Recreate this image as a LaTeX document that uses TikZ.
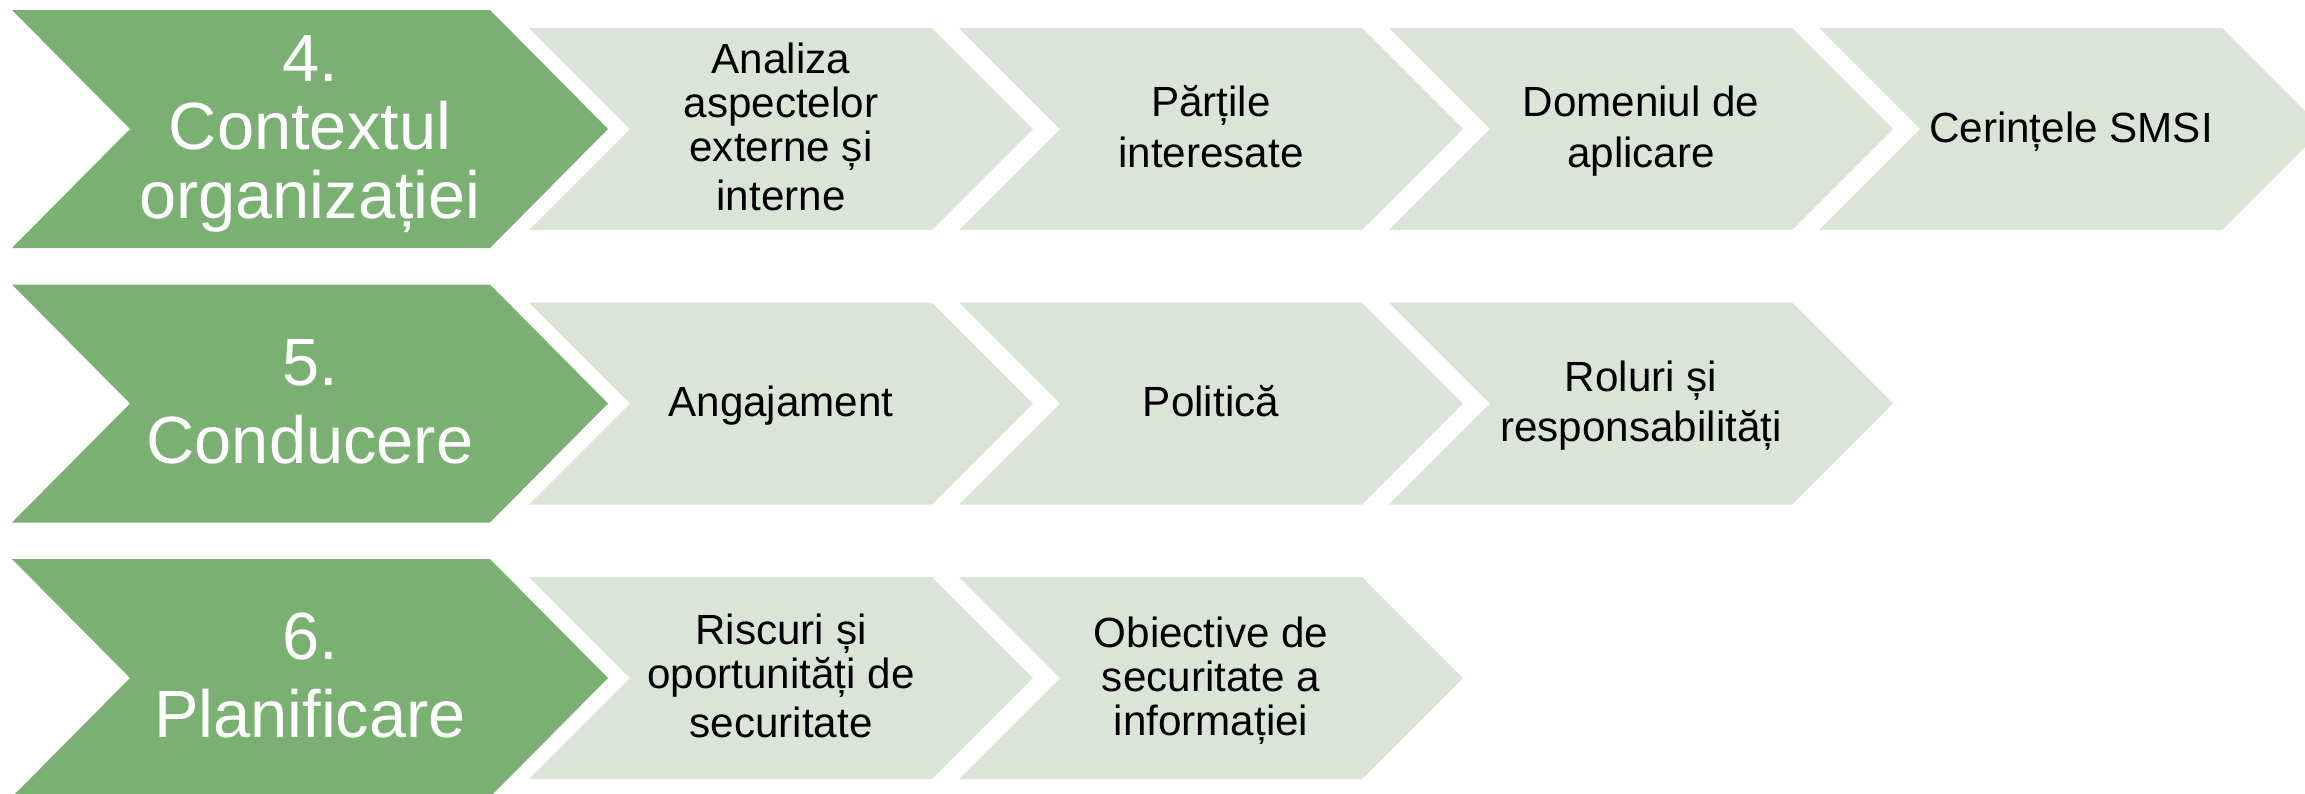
\documentclass[tikz,border=0pt]{standalone}
\usepackage{fontspec}
\setmainfont{Liberation Sans}
\definecolor{chgreen}{RGB}{122,176,114}
\definecolor{chlight}{RGB}{219,229,215}
\newcommand\lstrut{\rule[-0.25em]{0pt}{1.12em}}
\newcommand\tightlines{\lineskiplimit=-100pt\relax\lineskip=0pt\relax}
\tikzset{
  headtext/.style={text=white, align=center, inner sep=0pt,
    font=\fontsize{19pt}{19.5pt}\selectfont},
  itemtext/.style={text=black, align=center, inner sep=0pt,
    font=\fontsize{12pt}{12.5pt}\selectfont},
}
% #1 centre y, #2 node name, #3 text
\newcommand\greenchev[3]{%
  \fill[chgreen] (12,#1-119) -- (490,#1-119) -- (608,#1) -- (490,#1+119)
    -- (12,#1+119) -- (130,#1) -- cycle;
  \node[headtext] (#2) at (310,#1) {\tightlines\lstrut #3\lstrut};}
% #1 left x, #2 centre y, #3 node name, #4 text
\newcommand\lightchev[4]{%
  \fill[chlight] (#1,#2-101) -- (#1+403,#2-101) -- (#1+504,#2) -- (#1+403,#2+101)
    -- (#1,#2+101) -- (#1+101,#2) -- cycle;
  \node[itemtext] (#3) at (#1+252,#2) {\tightlines\lstrut #4\lstrut};}
\begin{document}
\begin{tikzpicture}[x=0.01cm,y=-0.01cm]
\useasboundingbox (0,0) rectangle (2305,793);
\clip (0,0) rectangle (2305,793);
% row 1
\greenchev{129}{g4}{4.\\Contextul\\organizației}
\lightchev{529}{129}{a1}{Analiza\\aspectelor\\externe și\\interne}
\lightchev{959}{129}{a2}{Părțile\\interesate}
\lightchev{1389}{129}{a3}{Domeniul de\\aplicare}
\lightchev{1819}{129}{a4}{Cerințele SMSI}
% row 2
\greenchev{403.5}{g5}{5.\\Conducere}
\lightchev{529}{403.5}{b1}{Angajament}
\lightchev{959}{403.5}{b2}{Politică}
\lightchev{1389}{403.5}{b3}{Roluri și\\responsabilități}
% row 3
\greenchev{678}{g6}{6.\\Planificare}
\lightchev{529}{678}{c1}{Riscuri și\\oportunități de\\securitate}
\lightchev{959}{678}{c2}{Obiective de\\securitate a\\informației}
\end{tikzpicture}
\end{document}
